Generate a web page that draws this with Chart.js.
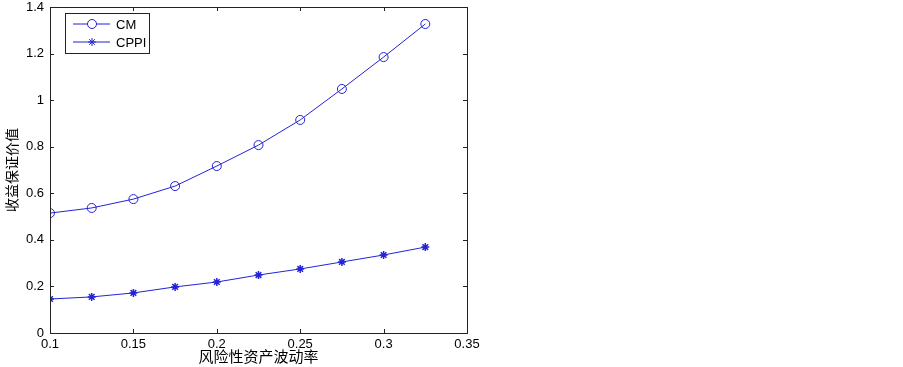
<!DOCTYPE html>
<html>
<head>
<meta charset="utf-8">
<script src="https://cdn.jsdelivr.net/npm/chart.js@4/dist/chart.umd.min.js"></script>
<style>
  html, body { margin: 0; padding: 0; background: #fff; }
  #wrap { width: 903px; height: 367px; }
</style>
</head>
<body>
<div id="wrap"><canvas id="myChart" width="903" height="367"></canvas></div>
<script>
// donnees
const volatilite = [0.1, 0.125, 0.15, 0.175, 0.2, 0.225, 0.25, 0.275, 0.3, 0.325];
const valeursCM = [0.515, 0.537, 0.575, 0.631, 0.717, 0.807, 0.915, 1.048, 1.185, 1.327];
const valeursCPPI = [0.146, 0.155, 0.172, 0.198, 0.219, 0.249, 0.275, 0.305, 0.335, 0.369];
const ticksX = [0.1, 0.15, 0.2, 0.25, 0.3, 0.35];
const ticksY = [0, 0.2, 0.4, 0.6, 0.8, 1, 1.2, 1.4];
const nomsSeries = ['CM', 'CPPI'];

const bleu = 'rgb(35,35,215)';
const police = '"Liberation Sans", Arial, sans-serif';

// cadre, graduations vers l'interieur et legende dans le graphique
const cadrePlugin = {
    id: 'cadre',
    afterDraw(chart) {
        const ctx = chart.ctx;
        const a = chart.chartArea;
        const sx = chart.scales.x, sy = chart.scales.y;
        ctx.save();
        ctx.strokeStyle = '#222';
        ctx.lineWidth = 1;
        ctx.strokeRect(a.left + 0.5, a.top + 0.5, a.right - a.left, a.bottom - a.top);
        ctx.beginPath();
        ticksX.forEach(v => {
            const px = Math.round(sx.getPixelForValue(v)) + 0.5;
            ctx.moveTo(px, a.bottom); ctx.lineTo(px, a.bottom - 4);
            ctx.moveTo(px, a.top); ctx.lineTo(px, a.top + 4);
        });
        ticksY.forEach(v => {
            const py = Math.round(sy.getPixelForValue(v)) + 0.5;
            ctx.moveTo(a.left, py); ctx.lineTo(a.left + 4, py);
            ctx.moveTo(a.right, py); ctx.lineTo(a.right - 4, py);
        });
        ctx.stroke();

        // legende
        const lx = a.left + 15, ly = a.top + 6, lw = 84, lh = 40;
        ctx.fillStyle = '#fff';
        ctx.fillRect(lx, ly, lw, lh);
        ctx.strokeStyle = '#222';
        ctx.strokeRect(lx + 0.5, ly + 0.5, lw, lh);
        chart.data.datasets.forEach((ds, i) => {
            const yy = ly + 11 + i * 18;
            ctx.strokeStyle = bleu;
            ctx.beginPath();
            ctx.moveTo(lx + 8, yy); ctx.lineTo(lx + 45, yy);
            ctx.stroke();
            Chart.helpers.drawPoint(ctx, {
                pointStyle: ds.pointStyle, radius: ds.pointRadius, borderWidth: 1
            }, lx + 27, yy);
            ctx.fillStyle = '#000';
            ctx.font = '13px ' + police;
            ctx.textBaseline = 'middle';
            ctx.fillText(nomsSeries[i], lx + 51, yy + 1);
        });
        ctx.restore();
    }
};

const ctx = document.getElementById('myChart').getContext('2d');
const myChart = new Chart(ctx, {
    type: 'line',
    data: {
        datasets: [
            {
                label: nomsSeries[0],
                data: volatilite.map((x, i) => ({ x: x, y: valeursCM[i] })),
                borderColor: bleu,
                backgroundColor: 'rgba(0,0,0,0)',
                borderWidth: 1,
                pointStyle: 'circle',
                pointRadius: 4.5,
                pointBorderColor: bleu,
                pointBackgroundColor: 'rgba(0,0,0,0)',
                pointBorderWidth: 1,
                tension: 0
            },
            {
                label: nomsSeries[1],
                data: volatilite.map((x, i) => ({ x: x, y: valeursCPPI[i] })),
                borderColor: bleu,
                backgroundColor: bleu,
                borderWidth: 1,
                pointStyle: 'star',
                pointRadius: 4,
                pointBorderColor: bleu,
                pointBorderWidth: 1.5,
                tension: 0
            }
        ]
    },
    options: {
        responsive: false,
        animation: false,
        layout: { padding: { top: 0, right: 436, left: 0, bottom: 2 } },
        plugins: {
            legend: { display: false },
            tooltip: { enabled: false }
        },
        scales: {
            x: {
                type: 'linear',
                min: 0.1, max: 0.35,
                afterFit: s => { s.height = 32; s.paddingLeft = 0; s.paddingRight = 0; },
                afterBuildTicks: s => { s.ticks = ticksX.map(v => ({ value: v })); },
                grid: { display: false, drawTicks: false },
                border: { display: false },
                ticks: {
                    padding: 4,
                    color: '#000',
                    font: { family: police, size: 13 },
                    callback: v => String(v)
                },
                title: {
                    display: true,
                    text: '风险性资产波动率',
                    color: '#000',
                    font: { family: '"Noto Sans CJK SC", sans-serif', size: 15 },
                    padding: { top: 0, bottom: 0 }
                }
            },
            y: {
                type: 'linear',
                min: 0, max: 1.4,
                afterFit: s => { s.width = 50; s.paddingTop = 7; s.paddingBottom = 0; },
                afterBuildTicks: s => { s.ticks = ticksY.map(v => ({ value: v })); },
                grid: { display: false, drawTicks: false },
                border: { display: false },
                ticks: {
                    padding: 6,
                    color: '#000',
                    font: { family: police, size: 13 },
                    callback: v => String(v)
                },
                title: {
                    display: true,
                    text: '收益保证价值',
                    color: '#000',
                    font: { family: '"Noto Sans CJK SC", sans-serif', size: 14 },
                    padding: { top: 3, bottom: 0 }
                }
            }
        }
    },
    plugins: [cadrePlugin]
});
</script>
</body>
</html>
